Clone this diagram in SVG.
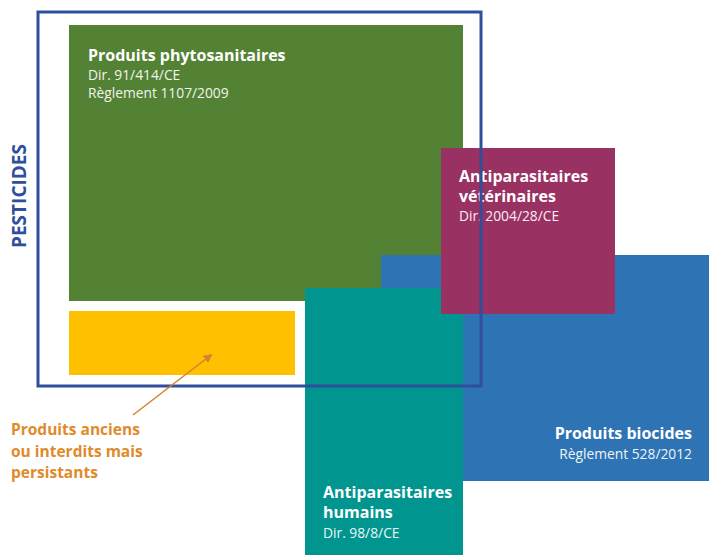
<svg xmlns="http://www.w3.org/2000/svg" width="709" height="555" viewBox="0 0 709 555">
<style>
text{font-family:"Open Sans","Noto Sans","Liberation Sans",sans-serif}
.t{fill:#fff;font-weight:bold;font-size:16px}
.s{fill:#fff;font-size:13.8px;opacity:0.92}
.o{fill:#e08a2c;font-weight:bold;font-size:15.5px}
</style>
<defs>
<marker id="ah" viewBox="0 0 10 10" refX="8" refY="5" markerWidth="6" markerHeight="6" orient="auto">
<path d="M0,0 L10,5 L0,10 z" fill="#d9822b"/>
</marker>
</defs>
<rect width="709" height="555" fill="#fff"/>
<g id="phyto">
<rect x="69" y="25" width="394" height="276" fill="#548235"/>
<text class="t" x="88" y="61">Produits phytosanitaires</text>
<text class="s" x="88" y="80">Dir. 91/414/CE</text>
<text class="s" x="88" y="98">Règlement 1107/2009</text>
</g>
<g id="anciens">
<rect x="69" y="311" width="226" height="64" fill="#ffc000"/>
</g>
<g id="biocides">
<rect x="381" y="255" width="328" height="226" fill="#2e74b5"/>
<text class="t" x="692" y="439" text-anchor="end">Produits biocides</text>
<text class="s" x="692" y="459" text-anchor="end">Règlement 528/2012</text>
</g>
<g id="humains">
<rect x="305" y="288" width="158" height="267" fill="#00968f"/>
<text class="t" x="323" y="498">Antiparasitaires</text>
<text class="t" x="323" y="518">humains</text>
<text class="s" x="323" y="538">Dir. 98/8/CE</text>
</g>
<g id="veterinaires">
<rect x="441" y="148" width="174" height="166" fill="#993162"/>
<text class="t" x="459" y="182">Antiparasitaires</text>
<text class="t" x="459" y="202">vétérinaires</text>
<text class="s" x="459" y="221">Dir. 2004/28/CE</text>
</g>
<g id="pesticides">
<rect x="38" y="12" width="443" height="374" fill="none" stroke="#2f4f9b" stroke-width="3"/>
<text x="18.5" y="196" transform="rotate(-90 18.5 196)" text-anchor="middle" dominant-baseline="central" fill="#2f4f9b" font-weight="bold" font-size="19">PESTICIDES</text>
</g>
<g id="label-anciens">
<text class="o" x="11" y="435">Produits anciens</text>
<text class="o" x="11" y="457">ou interdits mais</text>
<text class="o" x="11" y="478">persistants</text>
</g>
<g id="connectors">
<line x1="133" y1="415" x2="211" y2="355" stroke="#d9822b" stroke-width="1.5" marker-end="url(#ah)"/>
</g>
</svg>
